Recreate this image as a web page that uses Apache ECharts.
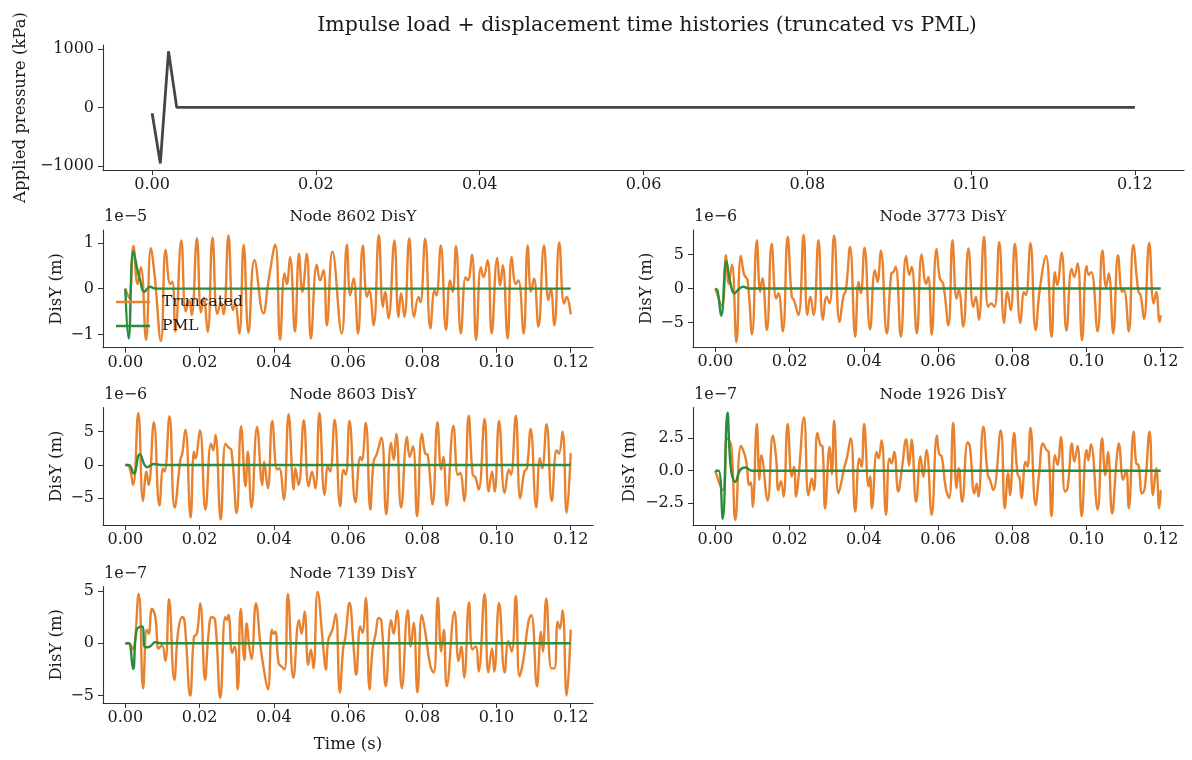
<!DOCTYPE html>
<html>
<head>
<meta charset="utf-8">
<script src="https://cdn.jsdelivr.net/npm/echarts@6/dist/echarts.min.js"></script>
<style>
  html, body { margin: 0; padding: 0; background: #fff; }
  #main { width: 1192px; height: 760px; }
</style>
</head>
<body>
<div id="main"></div>
<script>
// time in ms, values in the axis unit shown (kPa, or the panel's 1e-N multiplier)
const pressure = [[0, -100], [1, -960], [2, 960], [3, 0], [120, 0]];

const n8602Trunc = [[0,0],[1.0,-0.2],[2.2,0.93],[3.3,0.1],[4.2,0.47],[5.6,-1.12],[6.9,0.88],[7.9,0.3],[9.6,-1.14],[10.9,0.85],[12.1,0.1],[12.7,0.15],[13.5,-0.94],[15.1,1.05],[16.3,-0.5],[17.2,-0.25],[17.9,-0.58],[19.3,1.1],[20.4,-0.52],[21.1,-0.2],[22.2,-0.95],[23.5,1.12],[24.8,-0.55],[25.8,-0.3],[26.5,-0.56],[27.8,1.16],[29.0,-0.47],[29.6,-0.33],[30.7,-0.98],[31.9,0.96],[33.2,-0.96],[34.8,0.62],[37.2,-0.54],[38.6,0.18],[40.4,0.96],[41.7,-1.12],[42.9,0.33],[43.5,0.1],[44.4,0.69],[45.7,-0.94],[46.8,0.76],[47.7,-0.07],[48.9,0.76],[50.0,-1.09],[51.6,0.52],[52.5,0.18],[53.4,0.4],[54.3,-0.8],[55.8,0.81],[58.3,-0.98],[59.7,0.96],[60.6,-0.15],[61.5,0.22],[62.7,-0.98],[64.0,0.94],[65.1,-0.18],[65.7,-0.04],[66.9,-0.8],[68.3,1.17],[69.4,-0.4],[70.0,-0.07],[70.9,-0.65],[72.5,1.05],[73.6,-0.62],[74.3,-0.1],[75.2,-0.62],[76.5,1.1],[77.8,-0.62],[79.0,-0.18],[79.5,-0.3],[80.8,1.09],[82.2,-0.87],[83.3,-0.04],[83.8,-0.15],[85.0,0.94],[86.4,-0.9],[87.5,0.18],[88.2,-0.07],[89.1,0.93],[90.4,-0.98],[91.7,0.25],[92.3,0.18],[93.4,0.74],[94.5,-1.12],[95.8,0.47],[96.5,0.25],[97.6,0.62],[98.7,-0.98],[100.2,0.67],[101.0,0.07],[101.7,0.51],[103.0,-1.09],[104.1,0.69],[105.2,0.1],[105.9,0.18],[107.3,-0.98],[108.4,0.94],[109.3,-0.07],[110.1,0.22],[111.3,-0.83],[112.8,0.94],[114.0,-0.25],[114.6,0],[115.6,-0.8],[116.9,1.01],[118.2,-0.33],[118.9,-0.18],[120,-0.56]];
const n8602Pml = [[0,0],[0.9,-1.09],[2.2,0.81],[3.4,0.36],[4.0,0.18],[5.1,-0.07],[6.7,0.04],[8.1,0],[120,0]];

const n3773Trunc = [[0,0],[1.8,-2.5],[2.9,4.9],[3.6,0.7],[4.5,3.5],[5.7,-7.9],[6.9,4.8],[7.8,2.0],[8.7,1.2],[9.9,-6.7],[11.2,7.1],[12.1,-0.5],[12.7,1.5],[13.9,-6.1],[15.2,6.6],[16.4,-1.5],[17.0,-0.7],[18.2,-6.3],[19.5,7.6],[20.6,-1.2],[21.2,-1.7],[22.4,-3.9],[23.8,7.9],[24.8,-3.9],[25.6,-1.2],[26.5,-3.9],[27.8,7.1],[29.0,-4.6],[30.0,-1.2],[30.8,-2.2],[32.0,7.8],[33.5,-4.9],[34.5,-1.2],[35.2,-0.2],[36.3,6.1],[37.7,-7.1],[38.6,1.0],[39.2,-0.7],[40.2,6.0],[41.7,-6.0],[43.0,2.7],[43.7,1.0],[44.6,5.6],[46.2,-6.6],[47.4,2.2],[48.0,2.4],[48.6,3.2],[50.0,-7.1],[51.4,4.8],[52.3,2.0],[52.9,3.2],[54.3,-6.6],[55.6,5.0],[56.8,0.7],[57.4,1.7],[58.3,-6.8],[59.6,5.8],[60.5,1.5],[61.4,0.7],[62.8,-5.4],[63.9,7.1],[65.0,-1.5],[65.6,-0.2],[66.8,-5.6],[68.2,5.9],[69.5,-2.7],[70.2,-1.2],[71.0,-4.6],[72.4,7.6],[73.5,-2.7],[74.3,-2.2],[75.2,-2.7],[76.5,6.8],[77.8,-5.1],[78.7,-0.5],[79.6,-3.2],[80.7,6.6],[82.2,-5.1],[83.2,-0.5],[83.7,-1.0],[84.9,6.7],[86.3,-6.1],[87.4,-0.2],[89.1,4.8],[90.6,-7.1],[91.5,2.4],[92.1,0.5],[93.3,5.3],[94.6,-6.2],[96.0,2.9],[96.7,1.7],[97.6,3.7],[98.8,-7.6],[100.0,3.3],[100.6,2.0],[101.3,2.4],[103.0,-6.3],[104.3,5.6],[105.3,0.2],[106.0,2.2],[107.2,-6.6],[108.5,4.9],[109.6,-0.5],[110.1,-0.2],[111.4,-6.3],[112.6,6.4],[114.0,-0.5],[114.6,-1.0],[115.5,-4.5],[116.9,6.7],[118.1,-2.2],[118.8,-0.5],[119.7,-4.9],[120,-3.9]];
const n3773Pml = [[0,0],[0.6,-0.3],[1.6,-4.0],[3.0,4.0],[4.0,1.0],[5.2,-0.7],[6.5,0],[7.6,0.25],[9.0,0],[120,0]];

const n8603Trunc = [[0,0],[1.0,-0.2],[2.1,-3.0],[3.5,7.8],[4.8,-5.4],[5.7,-1.0],[6.3,-3.0],[7.7,6.4],[9.2,-6.1],[10.2,-0.5],[10.6,-1.0],[11.9,7.3],[13.3,-6.4],[14.9,1.0],[15.3,1.5],[16.2,5.3],[17.6,-7.9],[18.5,2.0],[18.9,1.0],[20.1,5.2],[21.6,-6.7],[23.1,3.2],[23.7,2.2],[24.3,4.5],[25.7,-8.2],[27.0,3.2],[27.7,2.7],[28.6,2.2],[30.0,-7.2],[31.2,5.8],[32.4,-3.2],[33.0,2.0],[34.0,-6.4],[35.5,5.7],[36.9,-3.0],[37.4,0.5],[38.4,-3.5],[39.6,6.6],[40.9,-0.7],[41.5,-0.5],[42.7,-5.2],[44.0,7.6],[45.4,-3.7],[45.8,-0.5],[46.7,-3.0],[48.1,6.7],[49.4,-3.2],[50.3,-1.0],[51.2,-3.5],[52.3,7.8],[53.7,-4.5],[54.6,-0.2],[55.2,-1.0],[56.4,6.8],[57.9,-6.2],[58.8,-0.7],[59.4,-1.5],[60.4,6.6],[62.0,-5.6],[63.3,1.2],[63.7,0.7],[64.8,6.3],[66.0,-6.7],[66.9,0.5],[67.8,1.7],[69.0,4.1],[70.3,-7.4],[71.6,3.3],[72.3,0.8],[73.0,4.7],[74.3,-6.4],[75.9,4.2],[76.6,1.2],[77.5,2.8],[78.6,-7.7],[79.9,4.7],[80.8,1.7],[81.5,1.5],[82.8,-5.9],[84.1,6.4],[85.1,-0.7],[85.7,1.2],[86.6,-6.1],[88.4,5.9],[89.6,-1.5],[90.2,-1.2],[91.3,-5.4],[92.5,7.4],[93.6,-1.5],[94.3,-1.8],[95.2,-3.7],[96.8,6.9],[97.9,-4.0],[98.8,-1.0],[99.5,-4.0],[100.7,6.6],[102.2,-4.2],[103.4,-0.7],[103.9,-1.5],[105.2,7.4],[106.4,-5.0],[107.5,-1.0],[108.2,-0.5],[109.2,5.4],[110.7,-6.4],[111.7,1.0],[112.3,-0.5],[113.5,6.1],[114.9,-5.4],[116.2,2.2],[116.8,1.7],[117.8,5.0],[118.9,-7.2],[120,1.8]];
const n8603Pml = [[0,0],[1.0,0],[2.3,-1.3],[3.9,1.6],[5.9,-0.35],[7.7,0.15],[9.5,0],[120,0]];

const n1926Trunc = [[0,0],[2.0,-1.5],[3.2,2.5],[4.3,1.9],[5.4,-3.8],[6.9,1.9],[7.6,1.5],[8.3,0.8],[9.2,-1.1],[9.6,-0.9],[10.1,-2.8],[11.2,3.6],[11.9,-0.7],[12.4,1.2],[14.1,-2.3],[15.5,2.7],[16.4,0.95],[17.0,-1.5],[17.7,-0.8],[18.4,-2.0],[19.5,3.6],[20.6,-0.45],[21.2,0.3],[21.8,-2.0],[22.4,-0.6],[23.9,4.1],[25.1,-1.9],[26.0,-0.6],[26.6,-1.5],[27.5,2.9],[28.3,2.0],[28.9,1.85],[29.6,-2.9],[30.8,1.85],[31.4,-0.3],[32.0,3.85],[33.2,-1.75],[34.1,-0.7],[34.7,0.2],[35.4,0.9],[36.5,2.5],[37.7,-3.15],[38.8,0.95],[39.4,0.3],[40.1,3.6],[41.3,-1.2],[41.7,-0.45],[42.2,-2.9],[43.5,1.45],[44.0,0.95],[44.8,2.35],[46.0,-3.4],[46.9,0.95],[47.5,0.55],[48.2,1.45],[49.3,-1.6],[50.3,0.2],[51.4,2.4],[52.2,0.4],[52.9,2.4],[54.1,-2.4],[55.3,1.1],[56.0,-0.45],[56.9,1.6],[58.3,-3.4],[59.7,2.7],[60.3,1.3],[61.0,1.1],[62.1,-1.35],[63.0,-2.1],[64.1,3.7],[65.0,-1.35],[65.6,0.2],[66.5,-2.4],[68.0,2.2],[68.6,1.85],[69.8,-1.75],[70.4,-1.0],[70.9,-2.0],[72.2,3.4],[73.4,-0.3],[74.0,-0.7],[74.9,-1.5],[76.9,3.1],[78.0,-2.9],[78.9,-0.2],[79.4,-1.9],[80.5,2.9],[81.4,-0.2],[82.0,-0.6],[82.5,-2.1],[83.6,0.7],[84.1,0.3],[84.9,3.3],[86.3,-2.65],[87.2,-0.35],[88.3,2.1],[89.2,1.6],[89.8,1.45],[90.6,-3.5],[91.5,1.2],[92.2,0.45],[93.1,2.6],[94.2,-1.6],[94.9,-1.35],[96.1,2.1],[96.7,0.7],[97.6,1.9],[98.7,-3.5],[100.0,1.6],[100.5,0.8],[101.2,2.05],[103.0,-3.0],[104.2,2.5],[105.1,-0.35],[105.8,1.45],[106.9,-3.3],[108.1,0.8],[108.7,2.1],[109.9,-0.7],[110.7,0.05],[111.4,-2.9],[112.7,3.0],[113.4,0.55],[114.0,0.45],[115.0,-1.75],[115.7,-1.35],[117.0,3.0],[117.9,-1.9],[118.8,0.2],[119.6,-2.9],[120,-1.5]];
const n1926Pml = [[0,0],[0.9,0],[2.0,-3.7],[3.3,4.46],[4.2,0.2],[5.4,-0.85],[6.7,0.05],[8.1,0.25],[9.9,0],[120,0]];

const n7139Trunc = [[0,0],[1.0,0],[2.0,-0.6],[3.6,4.7],[4.8,-4.3],[5.8,1.3],[6.3,0.9],[7.2,3.3],[8.1,2.5],[9.0,-0.5],[9.9,-0.2],[10.8,-1.7],[11.8,4.2],[13.2,-3.5],[14.3,1.3],[15.4,2.5],[16.0,2.0],[17.5,-5.0],[18.5,0.6],[19.3,0.9],[20.2,3.8],[21.5,-3.5],[22.4,0.8],[23.3,2.5],[24.2,2.2],[25.6,-5.2],[26.9,2.5],[27.3,2.2],[27.8,2.7],[28.8,-0.9],[29.5,-0.3],[30.3,-4.4],[31.1,3.3],[32.1,-1.6],[32.7,1.9],[33.4,-0.3],[34.0,-1.5],[35.2,3.8],[36.5,-0.5],[37.2,-2.2],[38.4,-4.4],[39.5,1.3],[39.9,0.9],[40.4,1.1],[41.3,-1.9],[42.0,-2.2],[42.9,-2.5],[43.8,4.7],[45.3,-3.3],[46.8,2.2],[47.5,0.9],[48.3,3.0],[49.3,-2.05],[50.0,-0.6],[50.7,-2.4],[51.8,4.9],[53.4,-0.6],[54.0,-2.5],[54.7,0.3],[55.8,1.3],[56.7,2.8],[57.8,-4.7],[58.7,-0.5],[59.3,0.6],[60.4,3.85],[61.5,-0.3],[62.2,-3.0],[63.3,1.6],[63.9,1.0],[64.8,4.35],[65.8,-4.4],[66.6,-0.6],[67.4,0.8],[68.3,2.4],[69.0,2.1],[70.2,-4.1],[71.6,2.2],[72.3,0.9],[73.2,3.1],[74.5,-4.3],[76.1,3.15],[76.9,-0.3],[77.7,1.95],[78.7,-4.7],[79.9,2.7],[80.8,1.1],[82.2,-2.2],[83.1,-2.8],[84.2,4.35],[85.1,-0.8],[85.8,1.3],[86.6,-4.1],[88.7,3.0],[89.8,-1.7],[90.5,-0.3],[91.3,-3.3],[92.6,3.9],[93.5,-0.6],[94.4,-0.3],[95.2,-2.7],[96.8,4.7],[97.8,-2.8],[98.8,-0.5],[99.4,-2.7],[100.7,3.85],[102.2,-2.8],[103.2,0.2],[104.1,-0.8],[105.2,4.5],[106.2,-3.15],[107.2,-1.7],[108.6,2.05],[109.4,2.7],[110.9,-4.1],[112.0,1.1],[112.5,-0.8],[113.4,4.25],[114.8,-2.4],[115.6,-2.4],[116.5,2.05],[117.1,1.4],[117.8,3.15],[118.9,-5.0],[120,1.3]];
const n7139Pml = [[0,0],[0.9,0],[2.1,-2.46],[3.1,1.3],[4.5,1.6],[5.4,-0.4],[6.7,-0.3],[8.1,0.1],[9.4,0],[120,0]];

const xTicks = [0, 0.02, 0.04, 0.06, 0.08, 0.10, 0.12];
const pressureTicks = [-1000, 0, 1000];

// one entry per subplot: title, exponent text, traces, y range, y ticks
const panels = [
  { title: 'Node 8602 DisY', exp: '1e\u22125', trunc: n8602Trunc, pml: n8602Pml, ymin: -1.29, ymax: 1.28, ticks: [-1, 0, 1], dec: 0 },
  { title: 'Node 3773 DisY', exp: '1e\u22126', trunc: n3773Trunc, pml: n3773Pml, ymin: -8.6, ymax: 8.6, ticks: [-5, 0, 5], dec: 0 },
  { title: 'Node 8603 DisY', exp: '1e\u22126', trunc: n8603Trunc, pml: n8603Pml, ymin: -9.0, ymax: 8.6, ticks: [-5, 0, 5], dec: 0 },
  { title: 'Node 1926 DisY', exp: '1e\u22127', trunc: n1926Trunc, pml: n1926Pml, ymin: -4.2, ymax: 4.87, ticks: [-2.5, 0, 2.5], dec: 1 },
  { title: 'Node 7139 DisY', exp: '1e\u22127', trunc: n7139Trunc, pml: n7139Pml, ymin: -5.7, ymax: 5.4, ticks: [-5, 0, 5], dec: 0 }
];

const boxes = [
  { left: 103, top: 230, height: 117.7, nameGap: 38 },
  { left: 693, top: 230, height: 117, nameGap: 38 },
  { left: 103, top: 407.6, height: 117.4, nameGap: 38 },
  { left: 693, top: 407.5, height: 117.7, nameGap: 55 },
  { left: 103, top: 586.6, height: 116.4, nameGap: 38 }
];

const FONT = "'DejaVu Serif', serif";
const ORANGE = '#e8822e';
const GREEN = '#2b8c3c';
const AXIS = '#333';
const TXT = '#1a1a1a';
const TICK_FS = 16;
const LABEL_FS = 16.5;

const minus = s => String(s).replace('-', '\u2212');
const toS = arr => arr.map(p => [p[0] / 1000, p[1]]);

function xAxisOf(gi, withName) {
  const ax = {
    type: 'value', gridIndex: gi, min: -0.006, max: 0.126,
    axisLine: { show: true, onZero: false, lineStyle: { color: AXIS, width: 1.1 } },
    axisTick: { show: true, length: 5, lineStyle: { color: AXIS }, customValues: xTicks },
    axisLabel: { customValues: xTicks, formatter: v => v.toFixed(2), color: TXT, fontFamily: FONT, fontSize: TICK_FS, margin: 7 },
    splitLine: { show: false }
  };
  if (withName) {
    ax.name = 'Time (s)';
    ax.nameLocation = 'middle';
    ax.nameGap = 33;
    ax.nameTextStyle = { color: TXT, fontFamily: FONT, fontSize: LABEL_FS };
  }
  return ax;
}

function yAxisOf(gi, min, max, ticks, dec, name, gap) {
  return {
    type: 'value', gridIndex: gi, min: min, max: max,
    name: name, nameLocation: 'middle', nameGap: gap, nameRotate: 90,
    nameTextStyle: { color: TXT, fontFamily: FONT, fontSize: LABEL_FS },
    axisLine: { show: true, onZero: false, lineStyle: { color: AXIS, width: 1.1 } },
    axisTick: { show: true, length: 5, lineStyle: { color: AXIS }, customValues: ticks },
    axisLabel: { customValues: ticks, formatter: v => minus(v.toFixed(dec)), color: TXT, fontFamily: FONT, fontSize: TICK_FS, margin: 9 },
    splitLine: { show: false }
  };
}

const grid = [{ left: 103, top: 45, width: 1081, height: 125 }];
const xAxis = [xAxisOf(0, false)];
const yAxis = [yAxisOf(0, -1072, 1067, pressureTicks, 0, 'Applied pressure (kPa)', 73)];
const series = [{
  type: 'line', xAxisIndex: 0, yAxisIndex: 0, data: toS(pressure),
  symbol: 'none', lineStyle: { color: '#454545', width: 2.8 }, itemStyle: { color: '#454545' }
}];
const titles = [{
  text: 'Impulse load + displacement time histories (truncated vs PML)',
  left: 642, top: 10, textAlign: 'center',
  textStyle: { fontFamily: FONT, fontSize: 20.5, fontWeight: 'normal', color: TXT }
}];
const graphic = [];

panels.forEach((p, i) => {
  const b = boxes[i];
  const gi = i + 1;
  grid.push({ left: b.left, top: b.top, width: 490, height: b.height });
  xAxis.push(xAxisOf(gi, i === 4));
  yAxis.push(yAxisOf(gi, p.ymin, p.ymax, p.ticks, p.dec, 'DisY (m)', b.nameGap));
  series.push({
    name: 'Truncated', type: 'line', xAxisIndex: gi, yAxisIndex: gi, data: toS(p.trunc),
    symbol: 'none', smooth: 0.45, lineStyle: { color: ORANGE, width: 2.4 }, itemStyle: { color: ORANGE }, z: 2
  });
  series.push({
    name: 'PML', type: 'line', xAxisIndex: gi, yAxisIndex: gi, data: toS(p.pml),
    symbol: 'none', smooth: 0.45, lineStyle: { color: GREEN, width: 2.4 }, itemStyle: { color: GREEN }, z: 3
  });
  titles.push({
    text: p.title, left: b.left + 245, top: b.top - 26, textAlign: 'center',
    textStyle: { fontFamily: FONT, fontSize: 15.5, fontWeight: 'normal', color: TXT }
  });
  graphic.push({
    type: 'text', left: b.left + 1, top: b.top - 21,
    style: { text: p.exp, font: '16px ' + FONT, fill: TXT }
  });
});

const chart = echarts.init(document.getElementById('main'), null, { renderer: 'canvas' });
chart.setOption({
  animation: false,
  backgroundColor: '#fff',
  title: titles,
  grid: grid,
  xAxis: xAxis,
  yAxis: yAxis,
  legend: {
    data: [
      { name: 'Truncated', icon: 'rect', itemStyle: { color: ORANGE } },
      { name: 'PML', icon: 'rect', itemStyle: { color: GREEN } }
    ],
    orient: 'vertical', left: 116, top: 294, padding: 0,
    itemWidth: 34, itemHeight: 2.5, itemGap: 8,
    textStyle: { fontFamily: FONT, fontSize: 15.5, color: TXT, padding: [0, 0, 0, 7] }
  },
  graphic: graphic,
  series: series
});
</script>
</body>
</html>
